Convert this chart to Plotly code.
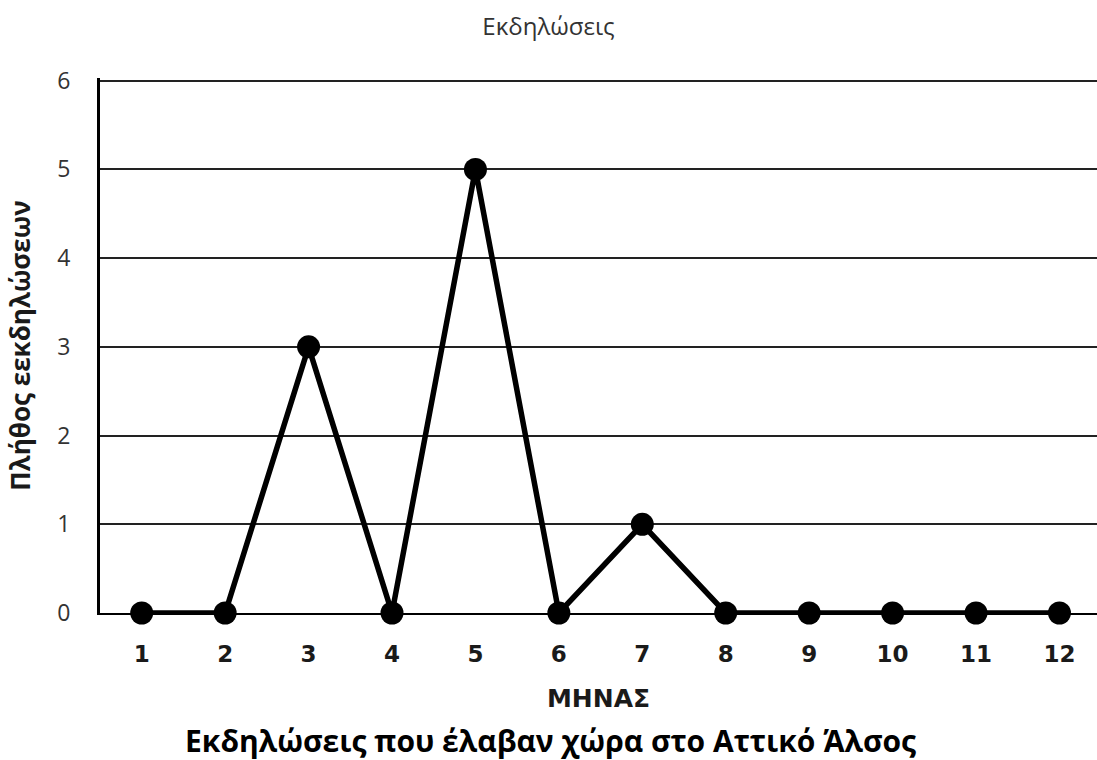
import plotly.graph_objects as go

months = [1, 2, 3, 4, 5, 6, 7, 8, 9, 10, 11, 12]
events = [0, 0, 3, 0, 5, 0, 1, 0, 0, 0, 0, 0]
month_labels = [str(m) for m in months]
y_ticks = [0, 1, 2, 3, 4, 5, 6]

fig = go.Figure()
fig.add_trace(go.Scatter(
    x=months, y=events, mode="lines+markers",
    line=dict(color="black", width=5.5),
    marker=dict(color="black", size=23),
    cliponaxis=False, showlegend=False,
))

fig.update_layout(
    width=1097, height=760,
    margin=dict(l=100, r=0, t=78, b=147),
    paper_bgcolor="white", plot_bgcolor="white",
    title=dict(text="Εκδηλώσεις", x=0.5, xanchor="center", y=0.965, yanchor="middle",
               font=dict(family="Open Sans", size=24, color="#333")),
    xaxis=dict(
        range=[0.5, 12.45], tickmode="array", tickvals=months, ticktext=month_labels,
        showgrid=False, zeroline=False, showline=True, linecolor="black", linewidth=2,
        ticks="",
        tickfont=dict(family="DejaVu Sans", size=23, color="#1a1a1a", weight="bold"),
        ticklabelstandoff=19,
        title=dict(text="ΜΗΝΑΣ", standoff=24,
                   font=dict(family="DejaVu Sans", size=25, color="#1a1a1a", weight="bold")),
    ),
    yaxis=dict(
        range=[0, 6.03], tickmode="array", tickvals=y_ticks,
        showgrid=True, gridcolor="#222", gridwidth=2,
        zeroline=False, showline=True, linecolor="black", linewidth=3,
        ticks="", ticklabelstandoff=22,
        tickfont=dict(family="Open Sans", size=23, color="#333"),
        title=dict(text="Πλήθος εεκδηλώσεων", standoff=20,
                   font=dict(family="Open Sans", size=26, color="#1a1a1a", weight="bold")),
    ),
    annotations=[dict(
        text="<b>Εκδηλώσεις που έλαβαν χώρα στο Αττικό Άλσος</b>",
        xref="paper", yref="paper", x=0.452, y=-0.238, xanchor="center", yanchor="middle",
        showarrow=False, font=dict(family="Open Sans", size=30, color="black"),
    )],
)

fig.write_html("out.html", config={"displayModeBar": False},
               post_script="document.body.style.margin='0';window.dispatchEvent(new Event('resize'));")
